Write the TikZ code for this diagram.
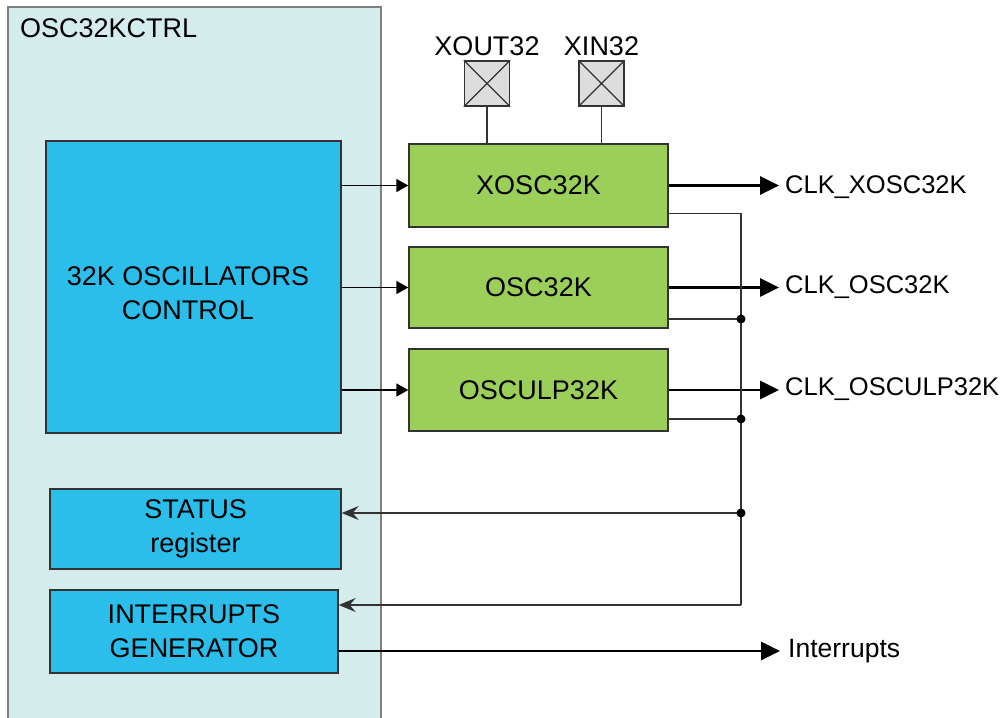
\documentclass[tikz,border=0pt]{standalone}
\usepackage{fontspec}
\setmainfont{Liberation Sans}
\usetikzlibrary{arrows.meta,positioning,calc}
\definecolor{ctrlbg}{HTML}{D4ECEC}
\definecolor{ctlblue}{HTML}{2CBEEB}
\definecolor{oscgreen}{HTML}{9BCF5A}
\definecolor{padgray}{HTML}{DDDDDD}

\begin{document}
\begin{tikzpicture}[
  x=1pt,y=-1pt,
  font=\fontsize{27}{34}\selectfont,
  frame/.style={draw=black!50, fill=ctrlbg, line width=1.5pt, minimum width=373pt, minimum height=723pt, inner sep=0pt},
  blk/.style={draw=black!80, fill=ctlblue, line width=1.4pt, align=center, inner sep=0pt},
  osc/.style={draw=black!80, fill=oscgreen, line width=1.4pt, minimum width=259pt, inner sep=0pt},
  pad/.style={draw=black!80, fill=padgray, line width=1.3pt, minimum size=45pt, inner sep=0pt},
  sig/.style={line width=1.5pt, draw=black!80},
  inarr/.style={line width=1.6pt, -{Triangle[length=12pt,width=13pt]}},
  outarr/.style={line width=2.8pt, -{Triangle[length=19pt,width=18pt]}},
  backarr/.style={sig, -{Stealth[length=17pt,width=14pt,inset=6pt]}},
  lbl/.style={anchor=west, inner sep=0pt},
  clklbl/.style={lbl, font=\fontsize{25.5}{30}\selectfont}
]
\useasboundingbox (0,0) rectangle (1003,717);
\clip (0,0) rectangle (1003,717);
\node[frame] (ctrl) at (194.5,368.5) {};
\node[lbl] (ctrlname) at (20,28) {OSC32KCTRL};
\node[blk, minimum width=295pt, minimum height=292pt] (ctl) at (193.5,287) {};
\node[align=center, inner sep=0pt] (ctltext) at (188,293) {32K OSCILLATORS\\CONTROL};
\node[blk, minimum width=291pt, minimum height=80pt] (status) at (195.5,529) {STATUS\\register};
\node[blk, minimum width=288pt, minimum height=83pt] (intgen) at (194,631.5) {INTERRUPTS\\GENERATOR};
\node[osc, minimum height=83pt] (xosc) at (538.5,185.5) {XOSC32K};
\node[osc, minimum height=81pt] (osc) at (538.5,287.5) {OSC32K};
\node[osc, minimum height=82pt] (osculp) at (538.5,390) {OSCULP32K};
\node[pad] (xout) at (487,83.5) {};
\node[pad] (xin) at (601.5,83.5) {};
\node[above=4pt of xout, inner sep=0pt] (xoutname) {XOUT32};
\node[above=4pt of xin, inner sep=0pt] (xinname) {XIN32};
\node[clklbl] (clkx) at (785,187) {CLK\_XOSC32K};
\node[clklbl] (clko) at (785,287) {CLK\_OSC32K};
\node[clklbl] (clku) at (785,389) {CLK\_OSCULP32K};
\node[lbl, font=\fontsize{26.5}{30}\selectfont] (irq) at (788,651) {Interrupts};
\coordinate (j1) at (741,319);
\coordinate (j2) at (741,419);
\coordinate (bs) at (741,513);
\coordinate (bi) at (741,605);
% pads
\draw[line width=1.3pt, black!80] (xout.north west) -- (xout.south east) (xout.north east) -- (xout.south west);
\draw[line width=1.3pt, black!80] (xin.north west) -- (xin.south east) (xin.north east) -- (xin.south west);
\draw[sig] (xout.south) -- (xout.south |- xosc.north); \draw[sig] (xin.south) -- (xin.south |- xosc.north);
% control to oscillators
\draw[inarr] (ctl.east |- xosc.west) -- (xosc.west); \draw[inarr] (ctl.east |- osc.west) -- (osc.west); \draw[inarr] (ctl.east |- osculp.west) -- (osculp.west);
% clock outputs
\draw[outarr] (xosc.east) -- ([xshift=-6pt]clkx.west |- xosc.east); \draw[outarr] (osc.east) -- ([xshift=-6pt]clko.west |- osc.east); \draw[outarr] (osculp.east) -- ([xshift=-6pt]clku.west |- osculp.east);
\draw[outarr] (intgen.east |- irq.west) -- ([xshift=-8pt]irq.west);
% status lines
\draw[sig] ([yshift=-28pt]xosc.east) -| (bi);
\draw[sig] (j1 -| osc.east) -- (j1); \draw[sig] (j2 -| osculp.east) -- (j2);
\draw[backarr] (bs) -- (bs -| status.east); \draw[backarr] (bi) -- (bi -| intgen.east);
\foreach \j in {j1,j2,bs} \fill (\j) circle (4.5);
\end{tikzpicture}
\end{document}
